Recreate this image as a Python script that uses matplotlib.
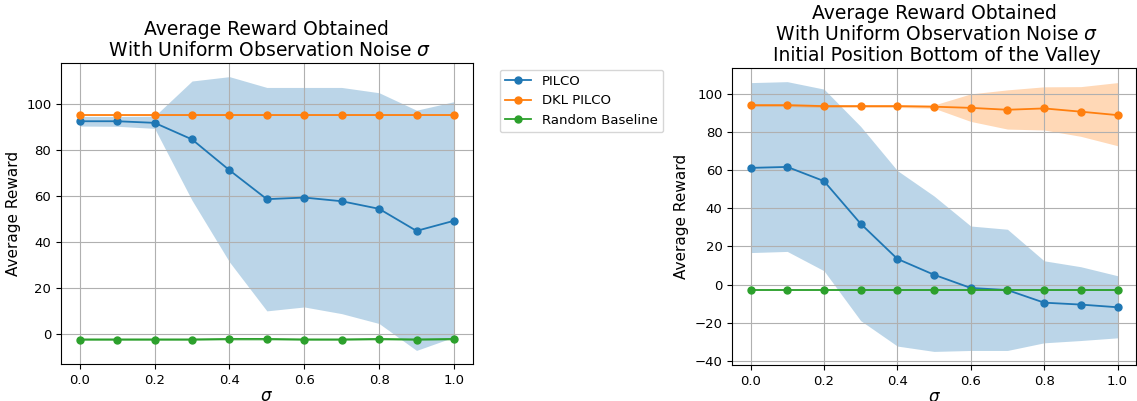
import numpy as np
import matplotlib.pyplot as plt

sigma = [0.0, 0.1, 0.2, 0.3, 0.4, 0.5, 0.6, 0.7, 0.8, 0.9, 1.0]

# left panel
pilco_a = [92.4, 92.4, 91.7, 84.5, 71.1, 58.5, 59.2, 57.6, 54.3, 44.7, 49.1]
pilco_a_hi = [94.5, 94.5, 94.6, 109.9, 111.8, 107.1, 107.1, 107.1, 104.8, 97.2, 100.9]
pilco_a_lo = [90.3, 90.2, 89.3, 58.0, 31.2, 9.9, 11.6, 8.7, 4.4, -7.3, -1.5]
dkl_a = [94.9] * 11
dkl_a_hi = [95.3] * 11
dkl_a_lo = [94.5] * 11
rand_a = [-2.6, -2.6, -2.6, -2.6, -2.3, -2.3, -2.6, -2.6, -2.3, -2.6, -2.3]
rand_a_hi = [-2.0] * 11
rand_a_lo = [-3.0] * 11

# right panel
pilco_b = [61.1, 61.6, 54.2, 31.9, 13.5, 5.2, -1.7, -2.8, -9.4, -10.4, -11.8]
pilco_b_hi = [105.7, 106.2, 102.3, 82.8, 59.7, 46.4, 30.7, 29.0, 12.5, 9.4, 4.7]
pilco_b_lo = [16.8, 17.4, 7.3, -18.8, -32.1, -34.9, -34.4, -34.4, -30.4, -29.2, -27.8]
dkl_b = [93.9, 93.9, 93.4, 93.4, 93.4, 93.1, 92.5, 91.5, 92.2, 90.5, 88.7]
dkl_b_hi = [94.6, 94.6, 94.2, 94.2, 94.2, 94.0, 99.8, 101.9, 103.5, 103.6, 105.7]
dkl_b_lo = [93.2, 93.2, 92.7, 92.7, 92.7, 92.3, 85.4, 81.4, 80.9, 77.6, 72.7]
rand_b = [-2.8] * 11
rand_b_hi = [-2.3] * 11
rand_b_lo = [-3.3] * 11

labels = ["PILCO", "DKL PILCO", "Random Baseline"]

plt.rcParams['font.size'] = 10

fig = plt.figure(figsize=(11.37, 4.01), dpi=100)
ax1 = fig.add_axes([0.0537, 0.092, 0.362, 0.751])
ax2 = fig.add_axes([0.644, 0.09, 0.355, 0.74])


def panel(ax, series, title):
    for (m, hi, lo), lab in zip(series, labels):
        line, = ax.plot(sigma, m, marker='o', markersize=5, linewidth=1.3, label=lab)
        ax.fill_between(sigma, lo, hi, alpha=0.3, color=line.get_color(), linewidth=0)
    ax.grid(True, color='#b0b0b0', linewidth=0.8)
    ax.set_xlabel(r"$\sigma$", fontsize=12, labelpad=0)
    ax.set_ylabel("Average Reward", fontsize=11)
    ax.set_title(title, fontsize=13.5, pad=5, linespacing=1.15)
    ax.tick_params(labelsize=9.5)


panel(ax1, [(pilco_a, pilco_a_hi, pilco_a_lo),
            (dkl_a, dkl_a_hi, dkl_a_lo),
            (rand_a, rand_a_hi, rand_a_lo)],
      "Average Reward Obtained\n With Uniform Observation Noise $\\sigma$")
ax1.legend(loc='upper left', bbox_to_anchor=(1.05, 1.0), fontsize=9.5)

panel(ax2, [(pilco_b, pilco_b_hi, pilco_b_lo),
            (dkl_b, dkl_b_hi, dkl_b_lo),
            (rand_b, rand_b_hi, rand_b_lo)],
      "Average Reward Obtained\n With Uniform Observation Noise $\\sigma$\n Initial Position Bottom of the Valley")

fig.savefig("out.png", dpi=100)
